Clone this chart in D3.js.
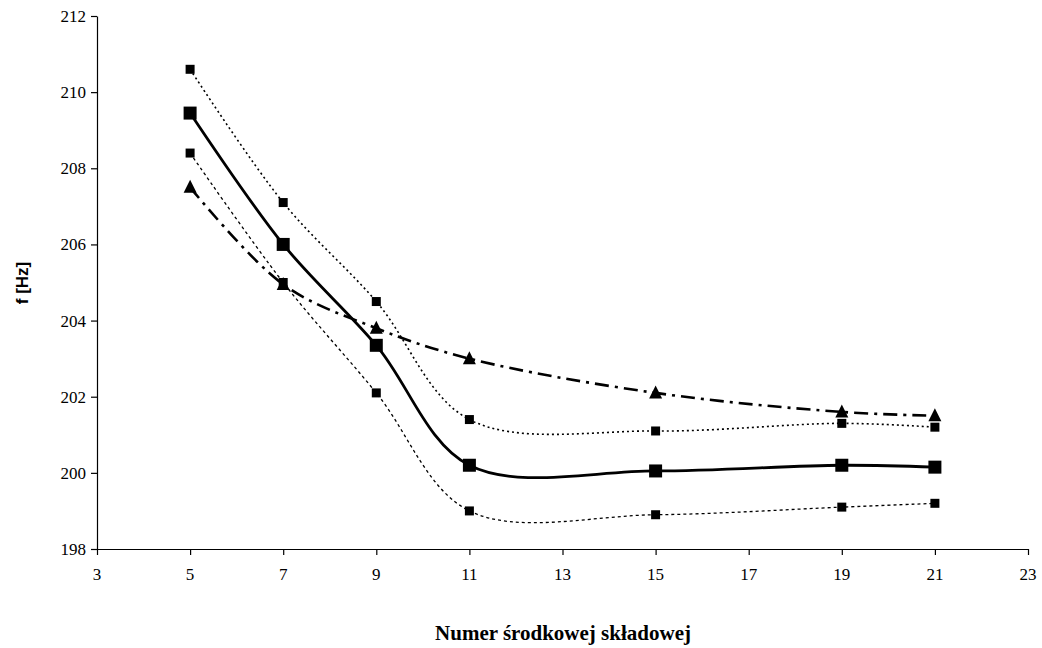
<!DOCTYPE html>
<html>
<head>
<meta charset="utf-8">
<script src="https://cdn.jsdelivr.net/npm/d3@7"></script>
<style>
  body { margin: 0; background: #fff; }
</style>
</head>
<body>
<div id="chart"></div>
<script>
// component numbers (x) and the four measured series (f in Hz)
var components = [5, 7, 9, 11, 15, 19, 21];
var upperDotted = [210.6, 207.1, 204.5, 201.4, 201.1, 201.3, 201.2];
var mainSolid   = [209.45, 206.0, 203.35, 200.2, 200.05, 200.2, 200.15];
var lowerDashed = [208.4, 205.0, 202.1, 199.0, 198.9, 199.1, 199.2];
var triangles   = [207.5, 204.95, 203.8, 203.0, 202.1, 201.6, 201.5];
var xTicks = [3, 5, 7, 9, 11, 13, 15, 17, 19, 21, 23];
var yTicks = [198, 200, 202, 204, 206, 208, 210, 212];

var serif = "Liberation Serif";
var width = 1042, height = 648;
var margin = {left: 97, right: 14, top: 16, bottom: 99};

var svg = d3.select("#chart").append("svg")
  .attr("width", width).attr("height", height);

var x = d3.scaleLinear().domain([3, 23]).range([margin.left, width - margin.right]);
var y = d3.scaleLinear().domain([198, 212]).range([height - margin.bottom, margin.top]);

// axes: lines from d3 axis, labels written separately
var xAxisG = svg.append("g")
  .attr("transform", "translate(0," + y(198) + ")")
  .call(d3.axisBottom(x).tickValues(xTicks).tickSize(6).tickFormat("").tickSizeOuter(0));
var yAxisG = svg.append("g")
  .attr("transform", "translate(" + x(3) + ",0)")
  .call(d3.axisLeft(y).tickValues(yTicks).tickSize(6).tickFormat("").tickSizeOuter(0));
[xAxisG, yAxisG].forEach(function(g) {
  g.select(".domain").attr("stroke", "#000").attr("stroke-width", 1.2);
  g.selectAll(".tick line").attr("stroke", "#000").attr("stroke-width", 1.2);
});

svg.append("g").selectAll("text")
  .data(xTicks).enter().append("text")
  .attr("x", function(d) { return x(d); })
  .attr("y", y(198) + 31)
  .attr("text-anchor", "middle")
  .attr("font-family", serif)
  .attr("font-size", 17)
  .text(function(d) { return d; });

svg.append("g").selectAll("text")
  .data(yTicks).enter().append("text")
  .attr("x", x(3) - 11)
  .attr("y", function(d) { return y(d) + 6; })
  .attr("text-anchor", "end")
  .attr("font-family", serif)
  .attr("font-size", 17)
  .text(function(d) { return d; });

// axis titles
svg.append("text")
  .attr("x", 563).attr("y", 640)
  .attr("text-anchor", "middle")
  .attr("font-family", serif)
  .attr("font-size", 21)
  .attr("font-weight", "bold")
  .text("Numer środkowej składowej");

svg.append("text")
  .attr("transform", "translate(28,283) rotate(-90)")
  .attr("text-anchor", "middle")
  .attr("font-family", "Liberation Sans")
  .attr("font-size", 17)
  .attr("font-weight", "bold")
  .text("f [Hz]");

var line = d3.line()
  .x(function(d) { return x(d[0]); })
  .y(function(d) { return y(d[1]); })
  .curve(d3.curveCatmullRom.alpha(0.5));

function pairs(vals) {
  return components.map(function(c, i) { return [c, vals[i]]; });
}

var series = [
  {vals: upperDotted, dash: "2,3", w: 1.6, marker: "square", size: 9},
  {vals: lowerDashed, dash: "3,3", w: 1.3, marker: "square", size: 9},
  {vals: triangles, dash: "14,6,3,6", w: 2.6, marker: "triangle", size: 13},
  {vals: mainSolid, dash: null, w: 2.8, marker: "square", size: 13}
];

series.forEach(function(s) {
  svg.append("path")
    .datum(pairs(s.vals))
    .attr("fill", "none")
    .attr("stroke", "#000")
    .attr("stroke-width", s.w)
    .attr("stroke-dasharray", s.dash)
    .attr("d", line);

  var pts = svg.append("g").selectAll("path")
    .data(pairs(s.vals))
    .enter().append("path")
    .attr("fill", "#000");
  if (s.marker == "square") {
    pts.attr("d", function(d) {
      var h = s.size / 2, cx = x(d[0]), cy = y(d[1]);
      return "M" + (cx - h) + "," + (cy - h) + "h" + s.size + "v" + s.size + "h" + (-s.size) + "Z";
    });
  } else {
    pts.attr("d", function(d) {
      var h = s.size / 2, cx = x(d[0]), cy = y(d[1]);
      return "M" + cx + "," + (cy - h - 1) + "L" + (cx + h) + "," + (cy + h - 1) + "L" + (cx - h) + "," + (cy + h - 1) + "Z";
    });
  }
});
</script>
</body>
</html>
